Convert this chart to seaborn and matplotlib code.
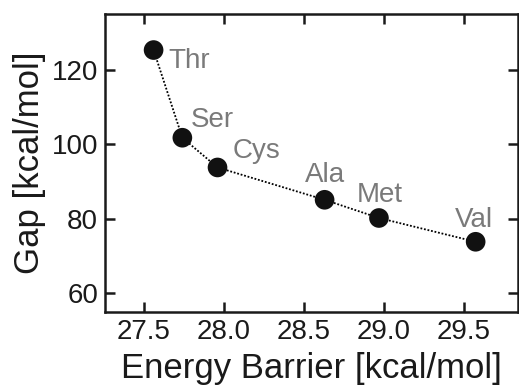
import matplotlib
matplotlib.use("Agg")
import matplotlib.pyplot as plt
import seaborn as sns
import pandas as pd

residues = ["Thr", "Ser", "Cys", "Ala", "Met", "Val"]
energy_barrier = [27.56, 27.74, 27.96, 28.63, 28.97, 29.575]
gap = [125.4, 101.8, 93.8, 85.1, 80.2, 73.8]

df = pd.DataFrame({"residue": residues, "barrier": energy_barrier, "gap": gap})

sns.set_theme(style="ticks")
plt.rcParams['font.family'] = ['Liberation Sans', 'DejaVu Sans']

fig = plt.figure(figsize=(5.19, 3.85), dpi=100)
ax = fig.add_axes([105/519, 1 - 312/385, (518-105)/519, (312-14)/385])

sns.lineplot(data=df, x="barrier", y="gap", sort=False, ax=ax, color="black",
             linestyle=(0, (1, 1)), linewidth=1.3, zorder=2)
sns.scatterplot(data=df, x="barrier", y="gap", ax=ax, color="#111111", s=200,
                edgecolor="none", zorder=3)

# label offsets in pixels (dx, dy to baseline, ha)
offsets = {
    "Thr": (15, -18, "left"),
    "Ser": (8, 11, "left"),
    "Cys": (15, 9, "left"),
    "Ala": (0, 18, "center"),
    "Met": (1, 16, "center"),
    "Val": (-2, 15, "center"),
}
for r, xv, yv in zip(residues, energy_barrier, gap):
    dx, dy, ha = offsets[r]
    ax.annotate(r, (xv, yv), xytext=(dx, dy), textcoords="offset pixels",
                ha=ha, va="baseline", fontsize=20, color="#7a7a7a")

ax.set_xlim(27.256, 29.84)
ax.set_ylim(54.9, 135.1)
ax.set_xticks([27.5, 28.0, 28.5, 29.0, 29.5])
ax.set_xticklabels(["27.5", "28.0", "28.5", "29.0", "29.5"])
ax.set_yticks([60, 80, 100, 120])
ax.set_xlabel("Energy Barrier [kcal/mol]", fontsize=25, color="#1a1a1a", labelpad=5)
ax.set_ylabel("Gap [kcal/mol]", fontsize=25, color="#1a1a1a", labelpad=4)
ax.tick_params(direction="in", top=True, right=True, length=7, width=1.8,
               labelsize=20, colors="#1a1a1a", pad=5)
for s in ax.spines.values():
    s.set_visible(True)
    s.set_linewidth(1.8)
    s.set_color("#1a1a1a")

fig.savefig("out.png", dpi=100)
